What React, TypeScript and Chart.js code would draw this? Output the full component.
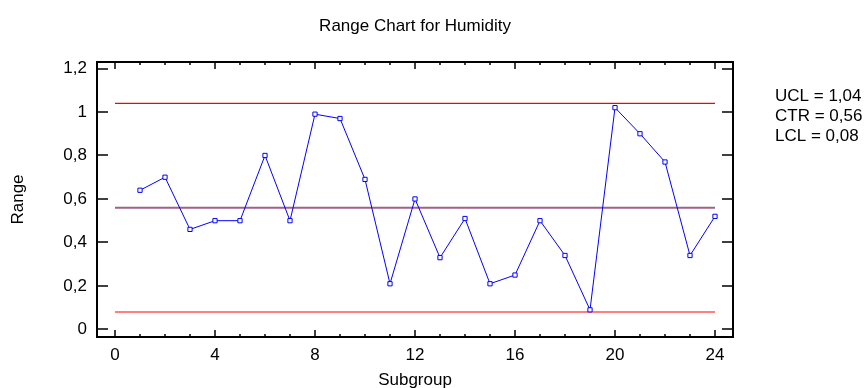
import { useEffect, useRef } from "react";
import { Chart, registerables } from "chart.js";

Chart.register(...registerables);

// Subgroup numbers and their observed ranges
const subgroups = [1, 2, 3, 4, 5, 6, 7, 8, 9, 10, 11, 12, 13, 14, 15, 16, 17, 18, 19, 20, 21, 22, 23, 24];
const ranges = [
  0.64, 0.7, 0.46, 0.5, 0.5, 0.8, 0.5, 0.99, 0.97, 0.69, 0.21, 0.6,
  0.33, 0.51, 0.21, 0.25, 0.5, 0.34, 0.09, 1.02, 0.9, 0.77, 0.34, 0.52,
];

// Control limits
const ucl = 1.04;
const ctr = 0.56;
const lcl = 0.08;

// Axis ticks
const xTickValues = [0, 4, 8, 12, 16, 20, 24];
const xTickLabels = ["0", "4", "8", "12", "16", "20", "24"];
const yTickValues = [0, 0.2, 0.4, 0.6, 0.8, 1, 1.2];
const yTickLabels = ["0", "0,2", "0,4", "0,6", "0,8", "1", "1,2"];

const chartTitle = "Range Chart for Humidity";
const xTitle = "Subgroup";
const yTitle = "Range";

const FONT = '"Liberation Sans", Arial, Helvetica, sans-serif';
const fmt = (v: number) => v.toFixed(2).replace(".", ",");
const limitLines = [`UCL = ${fmt(ucl)}`, `CTR = ${fmt(ctr)}`, `LCL = ${fmt(lcl)}`];

// Frame, inward tick marks, titles and the limit summary
const chartDecor = {
  id: "chartDecor",
  afterDraw(chart: any) {
    const { ctx, chartArea: a, scales } = chart;
    const xs = scales.x;
    const ys = scales.y;
    ctx.save();

    ctx.strokeStyle = "#000";
    ctx.lineWidth = 2;
    ctx.strokeRect(a.left, a.top, a.right - a.left, a.bottom - a.top);

    ctx.lineWidth = 1.5;
    ctx.beginPath();
    const last = xTickValues[xTickValues.length - 1];
    for (let v = 0; v <= last; v++) {
      const px = Math.round(xs.getPixelForValue(v));
      const len = v % 4 === 0 ? 7 : 3;
      ctx.moveTo(px, a.bottom);
      ctx.lineTo(px, a.bottom - len);
      ctx.moveTo(px, a.top);
      ctx.lineTo(px, a.top + len);
    }
    yTickValues.forEach((v) => {
      const py = Math.round(ys.getPixelForValue(v));
      ctx.moveTo(a.left, py);
      ctx.lineTo(a.left + 11, py);
      ctx.moveTo(a.right, py);
      ctx.lineTo(a.right - 11, py);
    });
    ctx.stroke();

    ctx.fillStyle = "#000";
    ctx.font = `17px ${FONT}`;
    ctx.textBaseline = "alphabetic";
    ctx.textAlign = "center";
    const cx = (a.left + a.right) / 2;
    ctx.fillText(chartTitle, cx, 31);
    ctx.fillText(xTitle, cx, 385);

    ctx.save();
    ctx.translate(23, (a.top + a.bottom) / 2);
    ctx.rotate(-Math.PI / 2);
    ctx.fillText(yTitle, 0, 0);
    ctx.restore();

    ctx.textAlign = "left";
    limitLines.forEach((t, i) => ctx.fillText(t, 775, 101 + 20 * i));

    ctx.restore();
  },
};

export default function App() {
  const canvasRef = useRef<HTMLCanvasElement | null>(null);

  useEffect(() => {
    if (!canvasRef.current) return;
    const lastX = xTickValues[xTickValues.length - 1];
    const chart = new Chart(canvasRef.current, {
      type: "line",
      data: {
        datasets: [
          {
            label: "Range",
            data: subgroups.map((s, i) => ({ x: s, y: ranges[i] })),
            borderColor: "#0000ff",
            borderWidth: 1,
            pointStyle: "rect",
            pointRadius: 3,
            pointBackgroundColor: "#ffffff",
            pointBorderColor: "#0000ff",
            pointBorderWidth: 1,
            tension: 0,
            order: 0,
          },
          {
            label: "UCL",
            data: [
              { x: 0, y: ucl },
              { x: lastX, y: ucl },
            ],
            borderColor: "#ff0000",
            borderWidth: 1.2,
            pointRadius: 0,
            order: 1,
          },
          {
            label: "CTR",
            data: [
              { x: 0, y: ctr },
              { x: lastX, y: ctr },
            ],
            borderColor: "rgb(160,96,136)",
            borderWidth: 2,
            pointRadius: 0,
            order: 1,
          },
          {
            label: "LCL",
            data: [
              { x: 0, y: lcl },
              { x: lastX, y: lcl },
            ],
            borderColor: "#ff0000",
            borderWidth: 1.2,
            pointRadius: 0,
            order: 1,
          },
        ],
      } as any,
      options: {
        animation: false,
        responsive: false,
        devicePixelRatio: 1,
        layout: { padding: { left: 0, top: 62, right: 134, bottom: 0 } },
        plugins: {
          legend: { display: false },
          title: { display: false },
          tooltip: { enabled: false },
        },
        scales: {
          x: {
            type: "linear",
            min: -0.72,
            max: 24.72,
            grid: { display: false, drawTicks: false },
            border: { display: false },
            afterBuildTicks: (scale: any) => {
              scale.ticks = xTickValues.map((v) => ({ value: v }));
            },
            afterFit: (scale: any) => {
              scale.height = 51;
            },
            ticks: {
              padding: 8,
              color: "#000",
              font: { family: FONT, size: 17 },
              maxRotation: 0,
              autoSkip: false,
              callback: (_v: any, i: number) => xTickLabels[i],
            },
          },
          y: {
            type: "linear",
            min: -0.035,
            max: 1.23,
            grid: { display: false, drawTicks: false },
            border: { display: false },
            afterBuildTicks: (scale: any) => {
              scale.ticks = yTickValues.map((v) => ({ value: v }));
            },
            afterFit: (scale: any) => {
              scale.width = 97;
            },
            ticks: {
              padding: 10,
              color: "#000",
              font: { family: FONT, size: 17 },
              autoSkip: false,
              callback: (_v: any, i: number) => yTickLabels[i],
            },
          },
        },
      } as any,
      plugins: [chartDecor],
    });
    return () => chart.destroy();
  }, []);

  return (
    <div style={{ position: "absolute", left: 0, top: 0, width: 867, height: 388, background: "#fff" }}>
      <canvas ref={canvasRef} width={867} height={388} />
    </div>
  );
}
